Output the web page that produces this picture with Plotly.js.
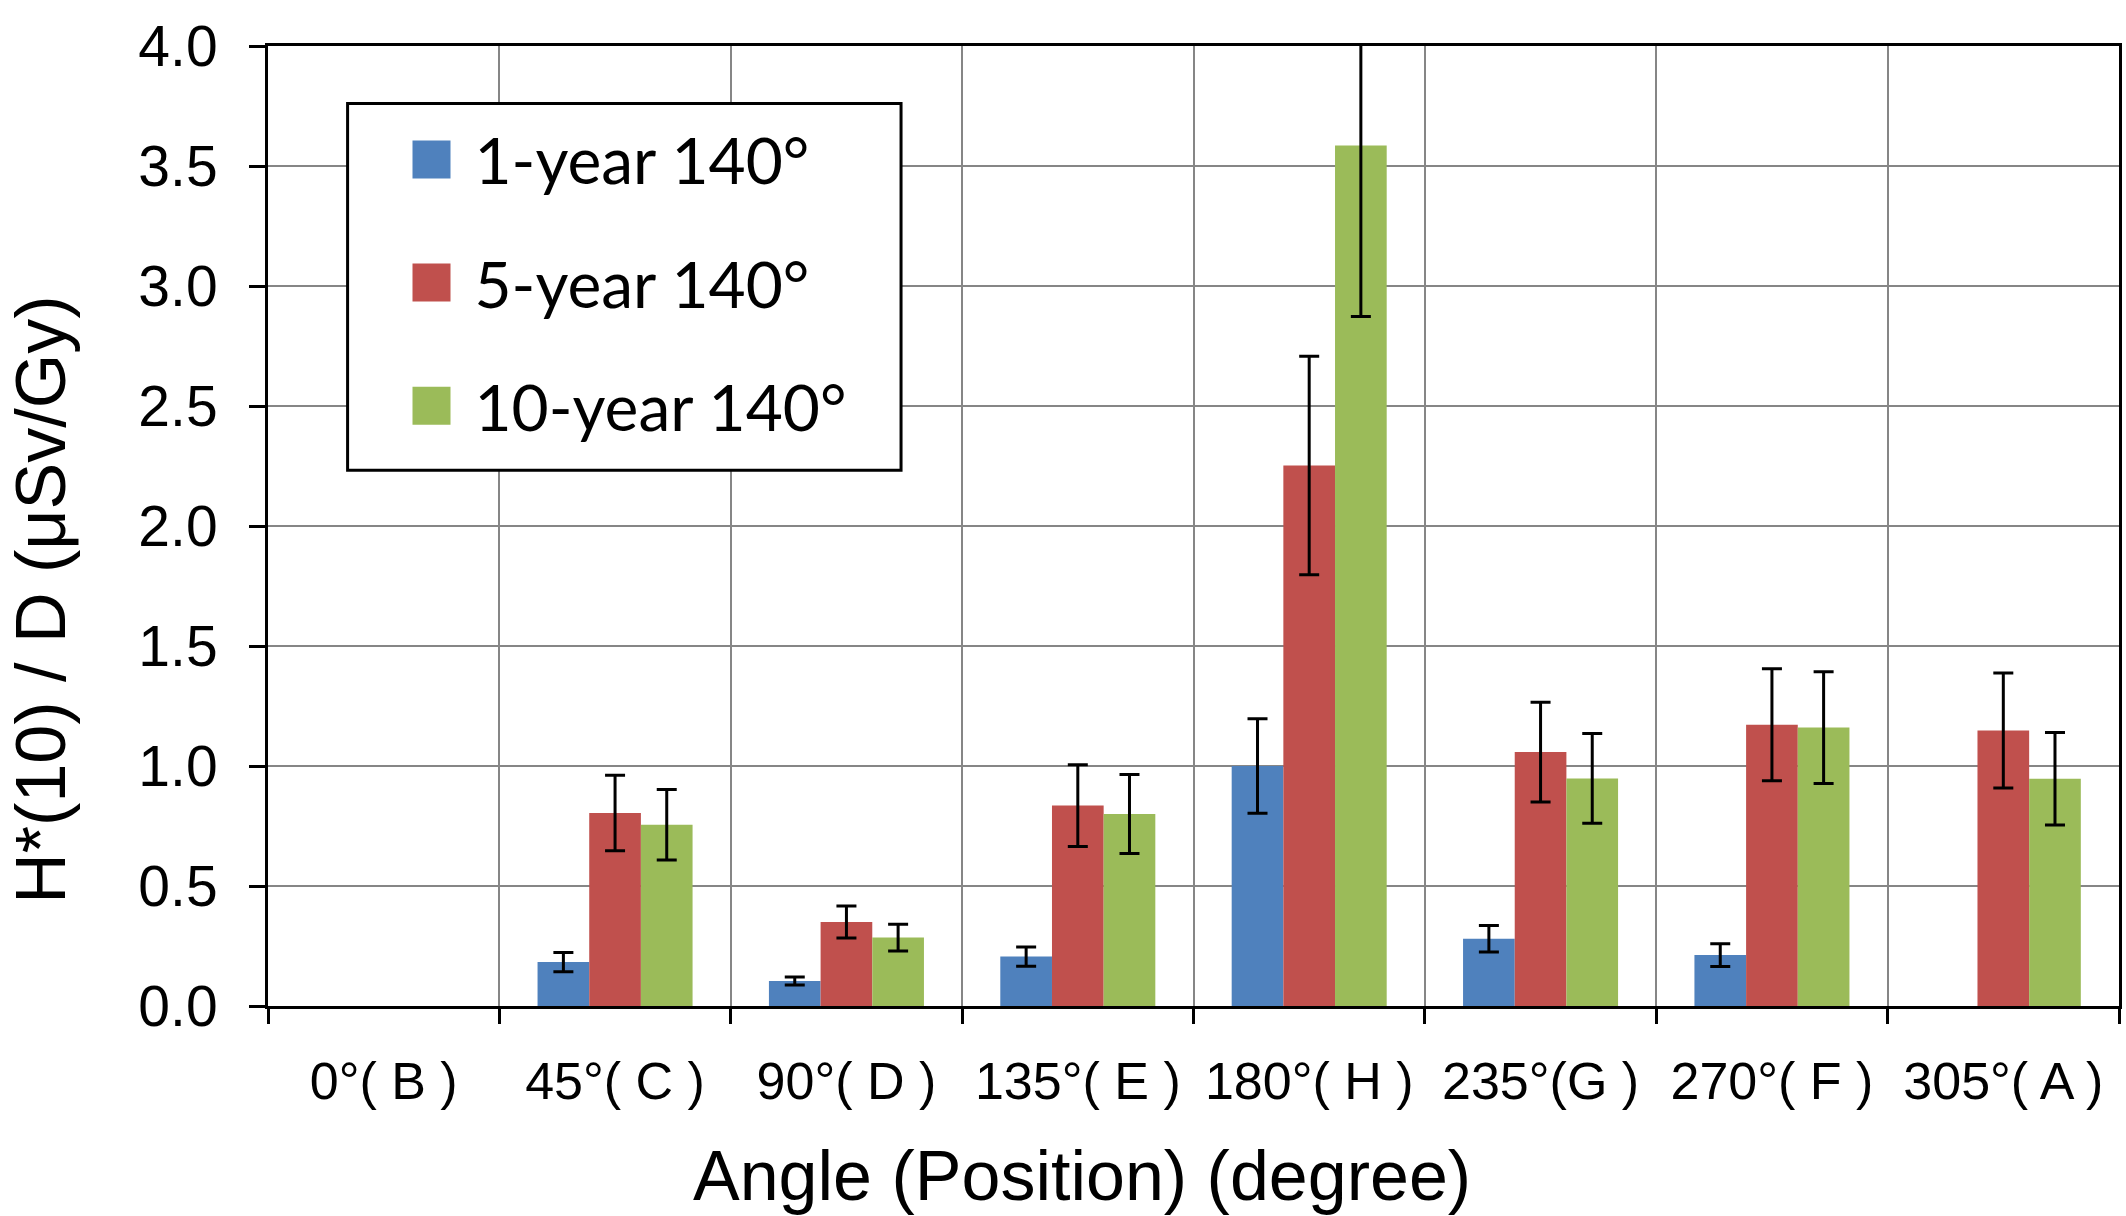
<!DOCTYPE html>
<html>
<head>
<meta charset="utf-8">
<script src="https://cdn.plot.ly/plotly-3.0.1.min.js"></script>
<style>html,body{margin:0;padding:0;background:#fff}</style>
</head>
<body>
<div id="chart" style="width:2126px;height:1216px"></div>
<script>
const positions = ['0°( B )', '45°( C )', '90°( D )', '135°( E )', '180°( H )', '235°(G )', '270°( F )', '305°( A )'];

const oneYear     = [null, 0.183, 0.104, 0.206, 1.000, 0.280, 0.212, null];
const oneYearErr  = [null, 0.040, 0.017, 0.040, 0.197, 0.055, 0.047, null];
const fiveYear    = [null, 0.804, 0.350, 0.835, 2.252, 1.058, 1.172, 1.148];
const fiveYearErr = [null, 0.157, 0.067, 0.170, 0.455, 0.208, 0.233, 0.240];
const tenYear     = [null, 0.755, 0.285, 0.800, 3.585, 0.948, 1.160, 0.947];
const tenYearErr  = [null, 0.147, 0.056, 0.165, 0.712, 0.187, 0.233, 0.193];

const seriesNames  = ['1-year 140°', '5-year 140°', '10-year 140°'];
const seriesColors = ['#4F81BD', '#C0504D', '#9BBB59'];

const AXIS_FONT = 'Liberation Sans, Arial, sans-serif';

function barTrace(i, y, err) {
  return {
    type: 'bar',
    name: seriesNames[i],
    legendgroup: 'g' + i,
    x: positions,
    y: y,
    marker: { color: seriesColors[i], line: { width: 0 } },
    error_y: { type: 'data', array: err, visible: true, color: '#000', thickness: 3, width: 10 },
    hoverinfo: 'x+y+name'
  };
}

const data = [
  barTrace(0, oneYear, oneYearErr),
  barTrace(1, fiveYear, fiveYearErr),
  barTrace(2, tenYear, tenYearErr)
];

const layout = {
  width: 2126,
  height: 1216,
  margin: { l: 268, r: 7, t: 46, b: 210 },
  paper_bgcolor: '#fff',
  plot_bgcolor: '#fff',
  font: { family: AXIS_FONT, color: '#000' },
  barmode: 'group',
  bargap: 0.33,
  bargroupgap: 0,
  showlegend: true,
  legend: {
    x: 0.0651, xanchor: 'left',
    y: 0.932, yanchor: 'top',
    bgcolor: 'rgba(0,0,0,0)',
    borderwidth: 0,
    itemwidth: 76,
    traceorder: 'grouped',
    tracegroupgap: 37,
    font: { family: 'Lato, sans-serif', size: 64, color: '#000' }
  },
  xaxis: {
    type: 'category',
    tickson: 'boundaries',
    ticks: 'outside',
    ticklen: 15,
    tickwidth: 3,
    tickcolor: '#000',
    showline: true,
    linecolor: '#000',
    linewidth: 3,
    mirror: true,
    showgrid: true,
    gridcolor: '#868686',
    gridwidth: 2,
    ticklabelstandoff: 28,
    tickfont: { family: AXIS_FONT, size: 52, color: '#000' }
  },
  yaxis: {
    range: [0, 4],
    dtick: 0.5,
    tickformat: '.1f',
    ticks: 'outside',
    ticklen: 16,
    tickwidth: 3,
    tickcolor: '#000',
    showline: true,
    linecolor: '#000',
    linewidth: 3,
    mirror: true,
    showgrid: true,
    gridcolor: '#868686',
    gridwidth: 2,
    zeroline: false,
    ticklabelstandoff: 20,
    tickfont: { family: AXIS_FONT, size: 57, color: '#000' }
  },
  annotations: [
    {
      text: 'H*(10) / D (μSv/Gy)',
      xref: 'paper', yref: 'paper',
      x: -0.1225, y: 0.4235,
      xanchor: 'center', yanchor: 'middle',
      textangle: -90,
      showarrow: false,
      font: { family: AXIS_FONT, size: 70, color: '#000' }
    },
    {
      text: 'Angle (Position) (degree)',
      xref: 'paper', yref: 'paper',
      x: 0.440, y: -0.1770,
      xanchor: 'center', yanchor: 'middle',
      showarrow: false,
      font: { family: AXIS_FONT, size: 70, color: '#000' }
    }
  ],
  shapes: [
    {
      // legend frame
      type: 'rect', xref: 'paper', yref: 'paper', layer: 'above',
      x0: 0.043, x1: 0.342, y0: 0.558, y1: 0.940,
      line: { color: '#000', width: 3 },
      fillcolor: '#fff'
    }
  ]
};

const config = { displayModeBar: false, responsive: false };

Plotly.newPlot('chart', data, layout, config).then(gd => {
  // bigger legend swatches, like the spreadsheet legend
  gd.querySelectorAll('.legendpoints path').forEach(p => {
    p.setAttribute('d', 'M19,19H-19V-19H19Z');
  });
});
</script>
</body>
</html>
